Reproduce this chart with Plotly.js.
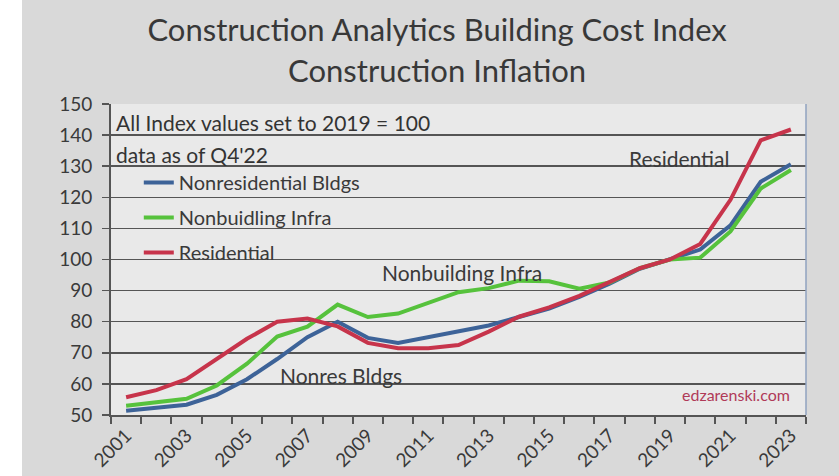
<!DOCTYPE html>
<html>
<head>
<meta charset="utf-8">
<script src="https://cdn.plot.ly/plotly-3.0.1.min.js"></script>
<style>html,body{margin:0;padding:0;background:#fff;}#chart{width:839px;height:476px;}</style>
</head>
<body>
<div id="chart"></div>
<script>
// ---- data ----
var years = [2001,2002,2003,2004,2005,2006,2007,2008,2009,2010,2011,2012,2013,2014,2015,2016,2017,2018,2019,2020,2021,2022,2023];
var nonresBldgs = [51.4,52.3,53.3,56.5,61.5,68.0,75.0,80.0,74.8,73.2,75.0,76.8,78.8,81.5,84.2,88.0,92.2,97.0,100.0,103.2,111.0,125.0,130.6];
var nonbuildingInfra = [53.0,54.0,55.2,59.5,66.5,75.2,78.4,85.5,81.5,82.6,86.0,89.5,90.8,93.2,93.0,90.6,92.6,97.2,100.0,100.6,109.0,122.8,128.8];
var residential = [55.7,58.0,61.5,68.0,74.5,80.0,81.0,78.5,73.2,71.5,71.5,72.5,76.8,81.6,84.6,88.3,92.6,97.2,100.0,105.0,119.2,138.3,141.8];
var seriesNames = ["Nonresidential Bldgs","Nonbuidling Infra","Residential"];
var xTickYears = [2001,2003,2005,2007,2009,2011,2013,2015,2017,2019,2021,2023];
var xTickText = ["2001","2003","2005","2007","2009","2011","2013","2015","2017","2019","2021","2023"];
var yTicks = [50,60,70,80,90,100,110,120,130,140,150];

var FONT = "Lato, 'Open Sans', sans-serif";
var colors = ["#3d6398","#56c23c","#c7344b"];
var seriesData = [nonresBldgs, nonbuildingInfra, residential];

var traces = seriesData.map(function(vals, i){
  return {
    x: years, y: vals, type: "scatter", mode: "lines",
    name: seriesNames[i], legendgroup: "g"+i,
    line: {color: colors[i], width: 4}
  };
});

var PW = 695, PH = 311, ML = 111, MT = 104, MB = 61;

var layout = {
  width: 839, height: 476,
  paper_bgcolor: "#d9d9d9",
  plot_bgcolor: "#e9e9e9",
  margin: {l:ML, r:33, t:MT, b:MB},
  font: {family: FONT, color: "#3a3a3a"},
  title: {
    text: "Construction Analytics Building Cost Index<br>Construction Inflation",
    font: {family: FONT, size: 31, color: "#383838"},
    x: 0.521, xanchor: "center",
    y: 0.913, yref: "container", yanchor: "top"
  },
  xaxis: {
    type: "linear",
    range: [2000.5, 2023.5],
    tickmode: "array", tickvals: xTickYears, ticktext: xTickText,
    tickangle: -45, ticks: "", ticklen: 0,
    tickfont: {family: FONT, size: 19, color: "#3a3a3a"},
    showgrid: false, zeroline: false,
    showline: true, linecolor: "#555555", linewidth: 2,
    minor: {tickmode: "linear", tick0: 2000.5, dtick: 1, ticks: "outside", ticklen: 7, tickwidth: 2, tickcolor: "#555555", showgrid: false}
  },
  yaxis: {
    range: [50, 150],
    tickmode: "array", tickvals: yTicks,
    ticks: "outside", ticklen: 7, tickwidth: 1.5, tickcolor: "#555555",
    ticklabelstandoff: 6,
    tickfont: {family: FONT, size: 19, color: "#3a3a3a"},
    showgrid: true, gridcolor: "#555555", gridwidth: 1.5,
    zeroline: false,
    showline: true, linecolor: "#555555", linewidth: 2
  },
  showlegend: true,
  legend: {
    x: 0.04, y: 0.81, xanchor: "left", yanchor: "top",
    bgcolor: "rgba(0,0,0,0)", borderwidth: 0,
    font: {family: FONT, size: 20, color: "#3a3a3a"},
    tracegroupgap: 6
  },
  shapes: [
    {type: "rect", xref: "paper", yref: "paper", layer: "below",
     x0: -ML/PW, x1: -(ML-22)/PW, y0: -MB/PH, y1: 1 + MT/PH,
     fillcolor: "#ffffff", line: {width: 0}},
    {type: "line", xref: "paper", yref: "paper", x0: 1, x1: 1, y0: 0, y1: 1, line: {color: "#8fa2bf", width: 1.5}}
  ],
  annotations: [
    {text: "All Index values set to 2019 = 100", xref: "paper", yref: "paper", x: 0.005, y: 0.939, xanchor: "left", yanchor: "middle", showarrow: false, font: {family: FONT, size: 21, color: "#333333"}},
    {text: "data as of Q4'22", xref: "paper", yref: "paper", x: 0.005, y: 0.839, xanchor: "left", yanchor: "middle", showarrow: false, font: {family: FONT, size: 21, color: "#333333"}},
    {text: "Residential", xref: "x", yref: "y", x: 2019.3, y: 132.4, xanchor: "center", yanchor: "middle", showarrow: false, font: {family: FONT, size: 21, color: "#3a3a3a"}},
    {text: "Nonbuilding Infra", xref: "x", yref: "y", x: 2012.1, y: 95.8, xanchor: "center", yanchor: "middle", showarrow: false, font: {family: FONT, size: 21, color: "#3a3a3a"}},
    {text: "Nonres Bldgs", xref: "x", yref: "y", x: 2008.1, y: 62.8, xanchor: "center", yanchor: "middle", showarrow: false, font: {family: FONT, size: 21, color: "#3a3a3a"}},
    {text: "edzarenski.com", xref: "paper", yref: "paper", x: 0.98, y: 0.0675, xanchor: "right", yanchor: "middle", showarrow: false, font: {family: FONT, size: 16, color: "#b03a58"}}
  ]
};

Plotly.newPlot("chart", traces, layout, {displayModeBar: false, staticPlot: true});
</script>
</body>
</html>
